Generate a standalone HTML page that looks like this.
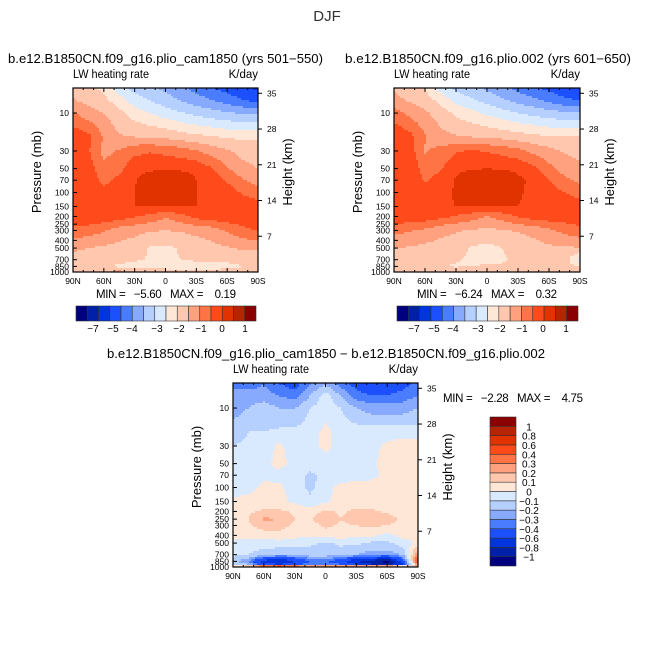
<!DOCTYPE html>
<html><head><meta charset="utf-8"><style>
html,body{margin:0;padding:0;background:#fff;}
svg{display:block;font-family:"Liberation Sans",sans-serif;}
</style></head><body>
<svg id="fig" width="654" height="654" viewBox="0 0 654 654" xmlns="http://www.w3.org/2000/svg">
<rect width="654" height="654" fill="#fff"/>
<text x="327" y="21" font-size="15" text-anchor="middle" fill="#333">DJF</text>
<text x="8" y="63" font-size="12.5" textLength="315" lengthAdjust="spacingAndGlyphs">b.e12.B1850CN.f09_g16.plio_cam1850 (yrs 501−550)</text>
<text x="345" y="63" font-size="12.5" textLength="286" lengthAdjust="spacingAndGlyphs">b.e12.B1850CN.f09_g16.plio.002 (yrs 601−650)</text>
<text x="107" y="358" font-size="12.5" textLength="438" lengthAdjust="spacingAndGlyphs">b.e12.B1850CN.f09_g16.plio_cam1850 − b.e12.B1850CN.f09_g16.plio.002</text>
<text x="96" y="298" font-size="11.5" textLength="140" lengthAdjust="spacing" xml:space="preserve">MIN =   −5.60   MAX =    0.19</text>
<text x="417" y="298" font-size="11.5" textLength="140" lengthAdjust="spacing" xml:space="preserve">MIN =   −6.24   MAX =    0.32</text>
<text x="443" y="402" font-size="11.5" textLength="140" lengthAdjust="spacing" xml:space="preserve">MIN =   −2.28   MAX =    4.75</text>
<g id="plots"></g>
</svg>
<script>
// ---------- data ----------
const lats = [90,75,60,45,30,15,0,-15,-30,-45,-60,-75,-90];
const levsTop = [5,7,10,20,30,50,70,100,150,200,300,500,700,850,1000];
// values expressed on the colour-class scale of the top panels
const leftField = [
 [9.3,8.8,8.3,7.0,6.2,5.8,5.3,4.8,4.2,3.6,3.2,2.7,2.4],
 [9.6,9.2,8.8,8.0,7.0,6.5,6.0,5.5,5.0,4.6,4.1,3.6,3.3],
 [10.6,9.9,9.5,8.8,8.0,7.5,7.0,6.6,6.2,5.9,5.6,5.4,5.3],
 [12.2,11.8,10.4,9.6,9.5,9.4,9.3,9.0,8.8,8.6,8.4,8.3,8.3],
 [12.2,11.6,10.2,10.6,11.2,11.4,11.2,11.0,10.6,10.0,9.6,9.2,9.0],
 [12.3,12.0,10.8,11.2,12.2,12.3,12.4,12.3,12.2,11.6,10.6,9.8,9.5],
 [12.4,12.1,11.2,11.8,12.4,13.2,13.3,13.3,12.5,12.2,11.4,10.6,10.0],
 [12.4,12.3,11.8,12.2,12.5,13.1,13.2,13.1,12.5,12.3,12.0,11.4,11.0],
 [12.4,12.4,12.3,12.4,12.5,12.5,12.5,12.5,12.5,12.3,12.2,12.1,12.0],
 [12.3,12.3,12.2,12.0,11.6,11.2,10.6,11.2,11.8,12.1,12.2,12.2,12.2],
 [11.2,11.0,10.6,10.0,9.8,9.6,9.5,9.6,9.8,10.0,10.6,11.2,11.6],
 [9.6,9.5,9.3,9.2,9.0,8.4,8.3,8.6,8.9,9.2,9.4,9.6,9.7],
 [9.3,9.2,9.1,9.0,8.7,8.4,8.3,8.5,8.8,9.0,9.1,9.2,8.6],
 [8.9,8.8,8.6,8.3,7.8,8.0,7.8,7.5,7.5,7.5,7.8,8.5,8.7],
 [9.3,9.5,9.6,9.8,9.4,9.2,9.3,9.2,9.2,9.4,9.5,9.2,9.0]
];
const rightField = [
 [9.4,9.0,8.5,7.2,6.3,5.9,5.4,4.9,4.3,3.7,3.3,2.8,2.5],
 [9.8,9.4,9.0,8.2,7.2,6.7,6.2,5.7,5.2,4.8,4.3,3.8,3.5],
 [11.0,10.2,9.7,9.0,8.3,7.8,7.3,6.9,6.5,6.2,5.9,5.7,5.6],
 [12.3,11.9,10.6,9.8,9.6,9.5,9.4,9.2,9.0,8.8,8.6,8.5,8.5],
 [12.4,12.1,10.4,10.8,11.4,11.6,11.4,11.2,10.8,10.2,9.8,9.4,9.2],
 [12.5,12.3,11.0,11.4,12.3,12.4,12.5,12.4,12.3,11.8,10.8,10.0,9.7],
 [12.5,12.4,11.4,11.9,12.6,13.3,13.4,13.3,12.7,12.3,11.5,10.8,10.2],
 [12.5,12.4,11.9,12.2,12.6,13.2,13.3,13.1,12.6,12.3,12.0,11.5,11.1],
 [12.5,12.4,12.3,12.4,12.5,12.5,12.5,12.5,12.5,12.3,12.2,12.1,12.0],
 [12.3,12.2,12.1,11.8,11.4,11.0,10.4,11.0,11.6,12.0,12.1,12.1,12.1],
 [10.8,10.6,10.3,9.8,9.6,9.4,9.3,9.4,9.6,9.8,10.3,10.8,11.2],
 [9.5,9.4,9.2,9.1,8.9,8.4,8.2,8.5,8.8,9.1,9.3,9.4,9.4],
 [9.3,9.1,9.0,8.9,8.6,8.3,8.3,8.4,8.7,8.9,9.0,9.1,7.0],
 [9.0,8.9,8.7,8.5,8.4,8.5,8.6,8.6,8.6,8.7,8.8,8.9,8.5],
 [9.2,9.3,9.4,9.4,9.2,9.1,9.2,9.1,9.1,9.2,9.3,9.2,9.0]
];
const levsDiff = [5,7,10,20,30,50,70,100,150,200,250,300,400,500,700,850,925,1000];
const diffField = [
 [-0.35,-0.35,-0.3,-0.4,-0.45,-0.3,-0.2,-0.35,-0.45,-0.5,-0.5,-0.45,-0.35],
 [-0.25,-0.25,-0.25,-0.3,-0.35,-0.2,-0.05,-0.2,-0.35,-0.4,-0.4,-0.35,-0.3],
 [-0.25,-0.2,-0.15,-0.2,-0.2,-0.1,-0.05,-0.1,-0.2,-0.25,-0.25,-0.25,-0.2],
 [-0.15,-0.1,-0.1,-0.08,-0.08,-0.05,0.03,-0.05,-0.05,-0.05,-0.05,-0.05,-0.05],
 [-0.1,-0.08,-0.05,0.02,-0.05,-0.05,0.03,-0.05,-0.05,-0.03,0.02,0.05,0.05],
 [-0.08,-0.05,-0.03,0.03,-0.03,-0.05,-0.05,-0.05,-0.03,-0.02,0.04,0.05,0.05],
 [-0.05,-0.05,-0.02,-0.03,-0.05,-0.12,-0.08,-0.06,-0.05,-0.03,0.03,0.05,0.05],
 [-0.05,-0.03,0.02,0.02,-0.05,-0.12,-0.05,0.04,0.05,0.05,0.05,0.05,0.05],
 [0.02,0.03,0.04,0.03,-0.02,-0.08,-0.02,0.05,0.06,0.05,0.04,0.05,0.05],
 [0.03,0.08,0.12,0.12,0.08,0.05,0.12,0.08,0.12,0.12,0.08,0.05,0.05],
 [0.05,0.1,0.22,0.2,0.1,0.08,0.2,0.1,0.15,0.2,0.15,0.08,0.05],
 [0.05,0.08,0.15,0.15,0.08,0.05,0.12,0.08,0.1,0.12,0.1,0.05,0.05],
 [0.05,0.05,0.05,0.05,0.03,0.02,0.05,0.05,0.03,0.02,-0.03,0.03,0.05],
 [-0.03,-0.05,-0.05,-0.03,-0.05,-0.08,-0.12,-0.08,-0.08,-0.12,-0.12,-0.05,0.02],
 [-0.08,-0.1,-0.15,-0.2,-0.2,-0.15,-0.15,-0.15,-0.2,-0.25,-0.25,-0.2,0.3],
 [-0.15,-0.3,-0.7,-0.8,-0.6,-0.4,-0.4,-0.5,-0.8,-0.9,-1.1,-0.5,0.5],
 [-0.1,-0.2,-0.5,-0.6,-0.5,-0.3,-0.3,-0.4,-0.6,-0.8,-0.9,-0.6,0.3],
 [0.1,0.3,0.9,1.0,0.8,0.6,0.5,0.6,0.8,0.9,1.0,0.4,0.2]
];
const topLevels = [0.5,1.5,2.5,3.5,4.5,5.5,6.5,7.5,8.5,9.5,10.5,11.5,12.5,13.5,14.5];
const topTickLabels = ["−7","−5","−4","−3","−2","−1","0","1"];
const topTickX = [17,37,56,81,103,125,146,169];
const diffLevels = [-1,-0.8,-0.6,-0.4,-0.3,-0.2,-0.1,0,0.1,0.2,0.3,0.4,0.6,0.8,1];
const diffTickLabels = ["−1","−0.8","−0.6","−0.4","−0.3","−0.2","−0.1","0","0.1","0.2","0.3","0.4","0.6","0.8","1"];
const palette = ['#00007f','#0020a8','#0034dc','#1c50ff','#4a7cff','#87aaff','#b5cffe','#d9eaff','#ffe7d7','#ffc7ad','#ffa17f','#ff7444','#ff4b1b','#e03300','#b82300','#8b0000'];
const pTicks = [10,30,50,70,100,150,200,250,300,400,500,700,850,1000];
const kmTicks = [7,14,21,28,35];
const latTicks = [90,60,30,0,-30,-60,-90];
const latLabels = ["90N","60N","30N","0","30S","60S","90S"];

const NS='http://www.w3.org/2000/svg';
const root=document.getElementById('plots');
function el(tag,attrs,parent){const e=document.createElementNS(NS,tag);for(const k in attrs)e.setAttribute(k,attrs[k]);(parent||root).appendChild(e);return e;}
function txt(s,attrs,parent){const e=el('text',attrs,parent);e.textContent=s;return e;}
function classOf(v,levels){let i=0;while(i<levels.length&&v>=levels[i])i++;return i;}
function interp(field,levs,lat,p){
  let fi=(90-lat)/15; fi=Math.max(0,Math.min(lats.length-1.0001,fi)); const i0=Math.floor(fi), tx=fi-i0;
  const lp=Math.log10(p); let j=0;
  while(j<levs.length-2 && Math.log10(levs[j+1])<lp) j++;
  let ty=(lp-Math.log10(levs[j]))/(Math.log10(levs[j+1])-Math.log10(levs[j])); ty=Math.max(0,Math.min(1,ty));
  const a=field[j][i0],b=field[j][i0+1],c=field[j+1][i0],d=field[j+1][i0+1];
  return (a*(1-tx)+b*tx)*(1-ty)+(c*(1-tx)+d*tx)*ty;
}
function panel(name,x0,x1,y0,y1,field,levs,levels,colors){
  const g=el('g',{});
  
  
  const W=x1-x0,H=y1-y0, K=H/Math.log10(1000/4.84);
  const xOf=lat=>x0+(90-lat)/180*W;
  const yOf=p=>y1-Math.log10(1000/p)*K;
  const latOf=x=>90-(x-x0)/W*180;
  const pOf=y=>1000/Math.pow(10,(y1-y)/K);
  const step=2;
  const cg=el('g',{'shape-rendering':'crispEdges'},g);
  
  
  function flush(xs,xe,y,h,cls){
    const r=el('rect',{x:xs,y:y,width:xe-xs+0.6,height:h+0.6,fill:colors[cls]},cg);
    
    
  }
  for(let y=y0;y<y1;y+=step){
    const h=Math.min(step,y1-y);
    const p=pOf(y+h/2); let runStart=x0, runCls=-1;
    for(let x=x0;x<x1;x+=step){
      const w=Math.min(step,x1-x);
      const cls=classOf(interp(field,levs,latOf(x+w/2),p),levels);
      if(cls!==runCls){
        if(runCls>=0) flush(runStart,x,y,h,runCls);
        runStart=x; runCls=cls;
      }
    }
    if(runCls>=0) flush(runStart,x1,y,h,runCls);
  }
  const fr=el('rect',{x:x0,y:y0,width:W,height:H,fill:'none',stroke:'#000','stroke-width':1.2},g);
  
  
  pTicks.forEach(p=>{const y=yOf(p);el('line',{x1:x0,x2:x0+4,y1:y,y2:y,stroke:'#000'},g);
    const t=txt(String(p),{x:x0-4,y:y+3,'font-size':8.5,'text-anchor':'end'},g);
    
    });
  kmTicks.forEach(k=>{const p=1000*Math.exp(-k/6.76);const y=yOf(p);el('line',{x1:x1,x2:x1+4,y1:y,y2:y,stroke:'#000'},g);
    const t=txt(String(k),{x:x1+9,y:y+3,'font-size':8.5},g);
    
    });
  for(let l=90;l>=-90;l-=10){const x=xOf(l);const maj=l%30===0;el('line',{x1:x,x2:x,y1:y1,y2:y1-(maj?4:2),stroke:'#000'},g);el('line',{x1:x,x2:x,y1:y0,y2:y0+(maj?4:2),stroke:'#000'},g);}
  latTicks.forEach((l,i)=>{const t=txt(latLabels[i],{x:xOf(l),y:y1+12,'font-size':8.5,'text-anchor':'middle'},g);
    
    });
  const a=txt('LW heating rate',{x:x0,y:y0-10,'font-size':11.5,textLength:76,lengthAdjust:'spacingAndGlyphs'},g);
  
  
  const b=txt('K/day',{x:x1,y:y0-10,'font-size':11.5,'text-anchor':'end'},g);
  
  
  const cy=(y0+y1)/2-8;
  const py=txt('Pressure (mb)',{x:0,y:0,'font-size':13,'text-anchor':'middle',transform:`translate(${x0-32},${cy}) rotate(-90)`},g);
  
  
  const hy=txt('Height (km)',{x:0,y:0,'font-size':13,'text-anchor':'middle',transform:`translate(${x1+34},${cy}) rotate(-90)`},g);
  
  
}
function hbar(name,x0,x1,y0,y1){
  const g=el('g',{});
  
  
  const n=topLevels.length+1, w=(x1-x0)/n;
  for(let i=0;i<n;i++){const r=el('rect',{x:x0+i*w,y:y0,width:w,height:y1-y0,fill:palette[i],stroke:'#333','stroke-width':0.6},g);
    
    }
  topTickLabels.forEach((s,i)=>{const t=txt(s,{x:x0+topTickX[i],y:y1+11,'font-size':10,'text-anchor':'middle'},g);
    
    });
}
function vbar(name,x0,x1,y0,y1){
  const g=el('g',{});
  
  
  const n=diffLevels.length+1,h=(y1-y0)/n;
  for(let i=0;i<n;i++){const r=el('rect',{x:x0,y:y1-(i+1)*h,width:x1-x0,height:h,fill:palette[i],stroke:'#333','stroke-width':0.6},g);
    
    }
  diffTickLabels.forEach((s,i)=>{const t=txt(s,{x:529,y:y1-(i+1)*h+4,'font-size':10,'text-anchor':'middle'},g);
    
    });
}
panel('left-panel',73,258,88,272,leftField,levsTop,topLevels,palette);
panel('right-panel',394,580,88,272,rightField,levsTop,topLevels,palette);
panel('diff-panel',233,418,383,567,diffField,levsDiff,diffLevels,palette);
hbar('left-colorbar',76,256,306,321);
hbar('right-colorbar',397,578,306,321);
vbar('diff-colorbar',490,516,417,566);
</script>
</body></html>
